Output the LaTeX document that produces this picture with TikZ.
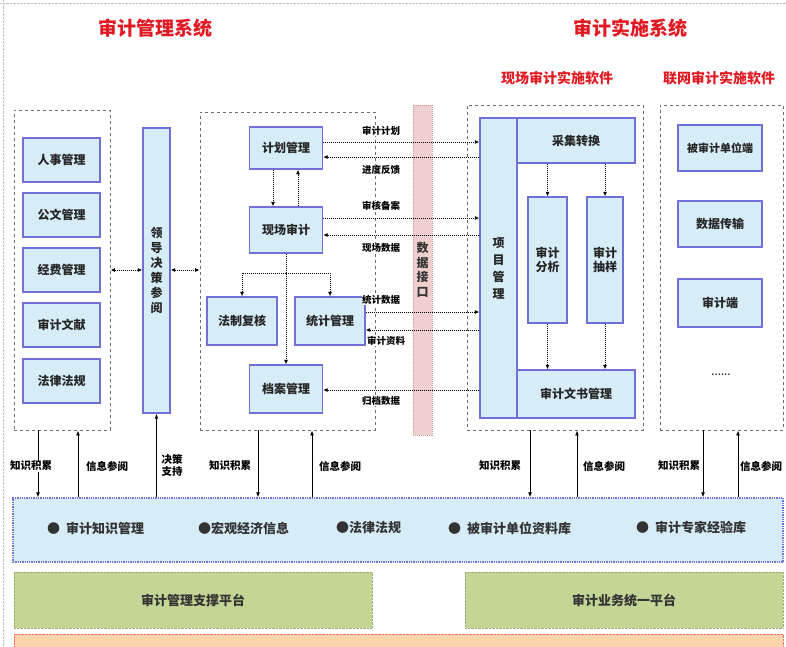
\documentclass[tikz,border=0pt]{standalone}
\usepackage{fontspec}
\newfontfamily\cjk{Noto Sans CJK SC}
\usetikzlibrary{arrows.meta}
\definecolor{modfill}{RGB}{214,236,246}
\definecolor{modline}{RGB}{112,112,214}
\definecolor{grpline}{RGB}{110,110,110}
\definecolor{pinkfill}{RGB}{240,208,206}
\definecolor{pinkline}{RGB}{200,150,150}
\definecolor{greenfill}{RGB}{196,214,150}
\definecolor{orangefill}{RGB}{250,212,170}
\definecolor{titlered}{RGB}{225,25,35}
\tikzset{
  mod/.style={draw=modline, line width=1.3pt, fill=modfill, font=\cjk\bfseries\fontsize{12}{14}\selectfont, text=black!85, inner sep=1pt, align=center},
  lbl/.style={font=\cjk\bfseries\fontsize{9.5}{11}\selectfont, fill=white, inner sep=0.5pt, align=center},
  blbl/.style={font=\cjk\bfseries\fontsize{10.5}{12}\selectfont, fill=white, inner sep=0.5pt, align=center},
  ttl/.style={font=\cjk\bfseries\fontsize{19}{22}\selectfont, text=titlered},
  subttl/.style={font=\cjk\bfseries\fontsize{14}{16}\selectfont, text=titlered},
  con/.style={densely dotted, line width=1pt, -{Latex[length=4.5pt,width=4pt]}},
  dbl/.style={densely dotted, line width=1pt, {Latex[length=4.5pt,width=4pt]}-{Latex[length=4.5pt,width=4pt]}},
  arr/.style={line width=0.9pt, -{Latex[length=5pt,width=4pt]}},
  bandtxt/.style={font=\cjk\bfseries\fontsize{13}{15}\selectfont, text=black!80, anchor=west, inner sep=0pt},
  grpbox/.style={draw=grpline, dashed, line width=0.9pt},
  plat/.style={draw=greenfill!80!black, densely dotted, fill=greenfill, minimum height=56pt, font=\cjk\bfseries\fontsize{13}{15}\selectfont, text=black!80},
}
\begin{document}
\begin{tikzpicture}[x=1pt,y=-1pt]
\useasboundingbox (0,0) rectangle (786,646);
% faint page marks
\draw[gray!50, densely dotted] (0,3) -- (786,3);
\draw[gray!50, densely dotted] (3,0) -- (3,646);

% titles
\node[ttl] (t1) at (155,28) {审计管理系统};
\node[ttl] (t2) at (630,28) {审计实施系统};
\node[subttl] (t3) at (557,78) {现场审计实施软件};
\node[subttl] (t4) at (719,78) {联网审计实施软件};

% group boxes
\node[grpbox, minimum width=96pt, minimum height=320pt] (gL) at (62,270) {};
\node[grpbox, minimum width=175pt, minimum height=318pt] (gM) at (287.5,271) {};
\node[grpbox, minimum width=176pt, minimum height=325pt] (gR) at (555,267.5) {};
\node[grpbox, minimum width=123pt, minimum height=325pt] (gN) at (721.5,267.5) {};

% left modules
\foreach \n/\t/\y in {l1/人事管理/160, l2/公文管理/215, l3/经费管理/270, l4/审计文献/325, l5/法律法规/381}
  \node[mod, minimum width=77pt, minimum height=44pt] (\n) at (61.5,\y) {\t};

% decision bar
\node[mod, minimum width=27pt, minimum height=285pt] (bar) at (156.5,270.5) {领\\[1pt]导\\[1pt]决\\[1pt]策\\[1pt]参\\[1pt]阅};

% middle modules
\node[mod, minimum width=73pt, minimum height=42pt] (jh) at (286,148) {计划管理};
\node[mod, minimum width=73pt, minimum height=46pt] (xc) at (286,230) {现场审计};
\node[mod, minimum width=70pt, minimum height=48pt] (fz) at (242,321) {法制复核};
\node[mod, minimum width=70pt, minimum height=48pt] (tj) at (330,321) {统计管理};
\node[mod, minimum width=73pt, minimum height=48pt] (da) at (286,389) {档案管理};

% pink interface bar
\node[draw=pinkline, densely dotted, line width=1pt, fill=pinkfill, minimum width=19pt, minimum height=330pt,
      font=\cjk\bfseries\fontsize{12}{14.5}\selectfont, text=black!80, align=center, inner sep=0pt] (jk) at (422.5,270) {数\\据\\接\\口};

% right (field) modules
\node[mod, minimum width=37pt, minimum height=300pt] (xm) at (498.5,268) {项\\[3pt]目\\[3pt]管\\[3pt]理};
\node[mod, minimum width=118pt, minimum height=45pt] (cj) at (576,140.5) {采集转换};
\node[mod, minimum width=118pt, minimum height=48pt] (ws) at (576,394) {审计文书管理};
\node[mod, minimum width=39pt, minimum height=126pt] (fx) at (547.5,260) {审计\\分析};
\node[mod, minimum width=36pt, minimum height=126pt] (cy) at (605,260) {审计\\抽样};

% networked modules
\node[mod, minimum width=84pt, minimum height=46pt, font=\cjk\bfseries\fontsize{11}{13}\selectfont] (n1) at (720,148) {被审计单位端};
\node[mod, minimum width=84pt, minimum height=46pt] (n2) at (720,224) {数据传输};
\node[mod, minimum width=84pt, minimum height=48pt] (n3) at (720,303) {审计端};
\node[font=\bfseries\fontsize{10}{12}\selectfont] (n4) at (721,375) {......};

% knowledge band
\node[draw=modline, densely dotted, line width=1.3pt, fill=modfill, minimum width=770pt, minimum height=64pt] (band) at (398,530) {};
\node[bandtxt] (b1) at (47,528) {●\hspace{6pt}审计知识管理};
\node[bandtxt] (b2) at (198,528) {●宏观经济信息};
\node[bandtxt] (b3) at (336,528) {●法律法规};
\node[bandtxt] (b4) at (448,528) {●\hspace{6pt}被审计单位资料库};
\node[bandtxt] (b5) at (636,528) {●\hspace{6pt}审计专家经验库};

% platforms
\node[plat, minimum width=358pt] (p1) at (193,600) {审计管理支撑平台};
\node[plat, minimum width=318pt] (p2) at (624,600) {审计业务统一平台};
\node[draw=red!60, densely dotted, fill=orangefill, minimum width=769pt, minimum height=20pt, anchor=north west, inner sep=0pt] (p3) at (14,634) {};

% left <-> bar <-> middle
\draw[dbl] (gL.east) -- (gL.east -| bar.west);
\draw[dbl] (bar.east |- gL.east) -- (gL.east -| gM.west);

% middle internal
\draw[con] ([xshift=-13pt]jh.south) -- ([xshift=-13pt]xc.north);
\draw[con] ([xshift=12pt]xc.north) -- ([xshift=12pt]jh.south);
\draw[con] (xc.south) -- (da.north);
\coordinate (br) at (286,273);
\draw[con] (br) -| (fz.north);
\draw[con] (br) -| (tj.north);

% middle <-> project management
\draw[con] ([yshift=6pt]jh.east) -- ([yshift=6pt]jh.east -| xm.west);
\draw[con] ([yshift=-9pt]jh.east -| xm.west) -- ([yshift=-9pt]jh.east);
\draw[con] ([yshift=12pt]xc.east) -- ([yshift=12pt]xc.east -| xm.west);
\draw[con] ([yshift=-5pt]xc.east -| xm.west) -- ([yshift=-5pt]xc.east);
\draw[con] ([yshift=9pt]tj.east) -- ([yshift=9pt]tj.east -| xm.west);
\draw[con] ([yshift=-9pt]tj.east -| xm.west) -- ([yshift=-9pt]tj.east);
\draw[con] ([yshift=-1pt]da.east -| xm.west) -- ([yshift=-1pt]da.east);

\node[lbl] (e1) at (381,131) {审计计划};
\node[lbl] (e2) at (381,170) {进度反馈};
\node[lbl] (e3) at (381,206) {审核备案};
\node[lbl] (e4) at (381,248) {现场数据};
\node[lbl] (e5) at (381,300) {统计数据};
\node[lbl] (e6) at (386,341) {审计资料};
\node[lbl] (e7) at (381,401) {归档数据};

% right internal
\draw[con] (fx.north |- cj.south) -- (fx.north);
\draw[con] (cy.north |- cj.south) -- (cy.north);
\draw[con] (fx.south) -- (fx.south |- ws.north);
\draw[con] (cy.south) -- (cy.south |- ws.north);

% vertical links to knowledge band
\draw[arr] ([xshift=-24pt]gL.south) -- ([xshift=-24pt]gL.south |- band.north);
\draw[arr] ([xshift=16pt]gL.south |- band.north) -- ([xshift=16pt]gL.south);
\draw[arr] (bar.south |- band.north) -- (bar.south);
\draw[arr] ([xshift=-29.5pt]gM.south) -- ([xshift=-29.5pt]gM.south |- band.north);
\draw[arr] ([xshift=24.5pt]gM.south |- band.north) -- ([xshift=24.5pt]gM.south);
\draw[arr] ([xshift=-25pt]gR.south) -- ([xshift=-25pt]gR.south |- band.north);
\draw[arr] ([xshift=22pt]gR.south |- band.north) -- ([xshift=22pt]gR.south);
\draw[arr] ([xshift=-18.5pt]gN.south) -- ([xshift=-18.5pt]gN.south |- band.north);
\draw[arr] ([xshift=16.5pt]gN.south |- band.north) -- ([xshift=16.5pt]gN.south);

\node[blbl] (k1) at (31,466) {知识积累};
\node[blbl] (k2) at (107,466) {信息参阅};
\node[blbl] (k3) at (172,465) {决策\\支持};
\node[blbl] (k4) at (230,466) {知识积累};
\node[blbl] (k5) at (340,466) {信息参阅};
\node[blbl] (k6) at (500,466) {知识积累};
\node[blbl] (k7) at (604,466) {信息参阅};
\node[blbl] (k8) at (679,466) {知识积累};
\node[blbl] (k9) at (761,466) {信息参阅};
\end{tikzpicture}
\end{document}
